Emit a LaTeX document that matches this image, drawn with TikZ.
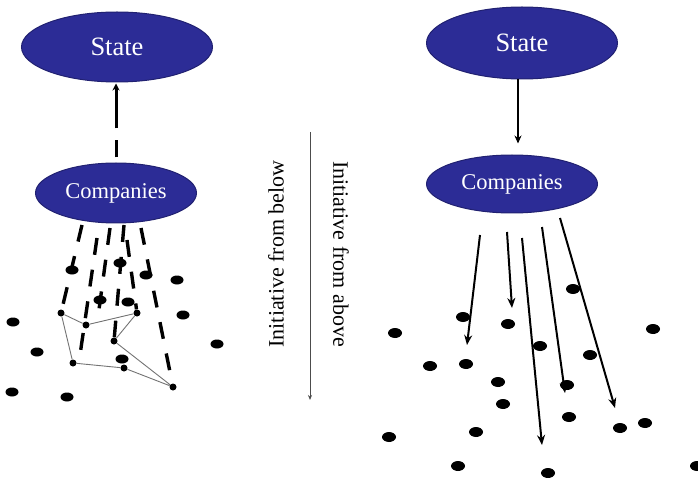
\documentclass[tikz,border=0pt]{standalone}
\usepackage{fontspec}
\setmainfont{Liberation Serif}
\usetikzlibrary{shapes.geometric,arrows.meta}
\definecolor{govblue}{RGB}{44,44,150}

\begin{document}
\begin{tikzpicture}[x=1pt,y=-1pt]
        \tikzstyle{every node}=[inner sep=0pt]
        \tikzstyle{blob}=[ellipse,fill=govblue,draw=govblue!75!black,line width=1pt,text=white]
        \tikzstyle{dot}=[ellipse,fill=black,minimum width=13pt,minimum height=9pt]
        \tikzstyle{knot}=[circle,fill=black,minimum size=7pt]
        \tikzstyle{dashlink}=[line width=3.4pt,dash pattern=on 17pt off 15pt]
        \tikzstyle{net}=[black!55,line width=0.9pt]
        \tikzstyle{push}=[line width=2pt,-{Stealth[length=10pt,width=8pt]}]
        \useasboundingbox (0,0) rectangle (698,478);

        % initiative from below
        \node[blob,minimum width=191pt,minimum height=70pt,font=\fontsize{26.5}{28}\selectfont] (stL) at (117,47) {State};
        \node[blob,minimum width=161pt,minimum height=60pt,font=\fontsize{22.5}{24}\selectfont] (coL) at (116,193) {Companies};
        \draw[line width=3pt,dash pattern=on 17pt off 12pt on 40pt,shorten <=5pt,shorten >=1pt,-{Stealth[length=7pt,width=7pt]}]
            (coL.north) -- (coL.north |- stL.south);

        \foreach \n/\x/\y in {a/61/313, b/86/325, c/137/313, e/114/341, f/73/363, g/124/368, h/173/387}
            \node[knot] (\n) at (\x,\y) {};
        \draw[net] (a) -- (b) -- (c) -- (e) -- (h) -- (g) -- (f) -- (a);

        \foreach \n/\x/\y in {sa/82/225, sb/97/238, sc/110/228, sd/124/225, se/141/228, sf/127/240, eb/80/355, ec/98/317}
            \coordinate (\n) at (\x,\y);
        \draw[dashlink] (sa) -- (a);
        \draw[dashlink] (sb) -- (eb);
        \draw[dashlink] (sc) -- (ec);
        \draw[dashlink] (sd) -- (e);
        \draw[dashlink] (se) -- (h);
        \draw[dashlink] (sf) -- (c);

        \foreach \x/\y [count=\i] in {72/270, 120/263, 146/275, 100/300, 128/302, 177/280, 183/315,
                13/322, 37/352, 217/344, 122/359, 12/392, 67/397}
            \node[dot] (ld\i) at (\x,\y) {};

        % the two readings, and the line between them
        \coordinate (midtop) at (310,132);
        \coordinate (midbot) at (310,400);
        \draw[black!70,line width=0.8pt,-{Stealth[length=5pt,width=4pt]}] (midtop) -- (midbot);
        \node[rotate=90,font=\fontsize{22}{24}\selectfont] (below) at (276,254) {Initiative from below};
        \node[rotate=-90,font=\fontsize{22}{24}\selectfont] (above) at (341,254) {Initiative from above};

        % initiative from above
        \node[blob,minimum width=191pt,minimum height=72pt,font=\fontsize{26.5}{28}\selectfont] (stR) at (522,43) {State};
        \node[blob,minimum width=171pt,minimum height=58pt,font=\fontsize{22.5}{24}\selectfont] (coR) at (512,184) {Companies};
        \draw[line width=2.4pt,shorten >=11pt,-{Stealth[length=8pt,width=7pt]}]
            ([xshift=-4pt]stR.south) -- ([xshift=6pt]coR.north);

        \foreach \x/\y [count=\i] in {463/317, 395/333, 508/324, 573/289, 653/329, 540/346, 430/366,
                466/364, 590/355, 498/382, 567/385, 503/404, 569/417, 620/428, 645/423, 476/432,
                389/437, 458/466, 548/473, 697/466}
            \node[dot,minimum width=14pt,minimum height=10pt] (rd\i) at (\x,\y) {};

        \foreach \i/\sx/\sy/\ex/\ey in {1/480/235/467/345, 2/507/232/512/308, 3/522/238/542/445,
                4/542/227/565/393, 5/560/218/615/408} {
            \coordinate (rs\i) at (\sx,\sy);
            \coordinate (re\i) at (\ex,\ey);
            \draw[push] (rs\i) -- (re\i);
        }
    \end{tikzpicture}
\end{document}
